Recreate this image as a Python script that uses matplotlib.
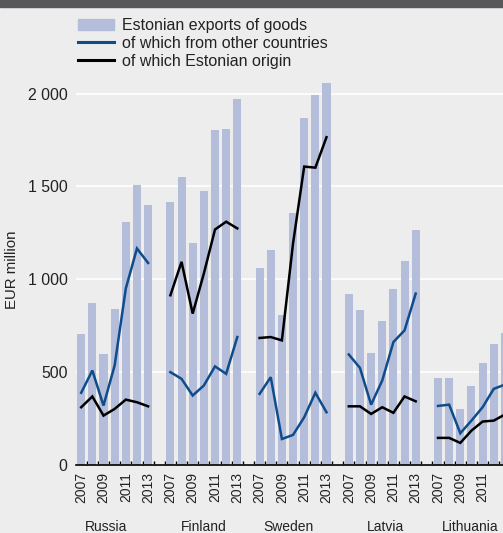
import numpy as np
import matplotlib
matplotlib.use("Agg")
import matplotlib.pyplot as plt
from matplotlib.patches import Patch
from matplotlib.lines import Line2D
from matplotlib.ticker import FixedLocator, FuncFormatter
import matplotlib.transforms as mtransforms

plt.rcParams['font.family'] = ['Liberation Sans', 'DejaVu Sans']

countries = ["Russia", "Finland", "Sweden", "Latvia", "Lithuania"]
years = [2007, 2008, 2009, 2010, 2011, 2012, 2013]

# EUR million, per country 2007..2013
exports = {
    "Russia":    [705, 875, 600, 838, 1310, 1508, 1400],
    "Finland":   [1414, 1549, 1196, 1477, 1803, 1810, 1972],
    "Sweden":    [1061, 1160, 806, 1358, 1866, 1994, 2057],
    "Latvia":    [923, 837, 605, 775, 950, 1097, 1265],
    "Lithuania": [470, 470, 302, 428, 548, 653, 710],
}
other_countries = {
    "Russia":    [389, 509, 320, 536, 950, 1166, 1088],
    "Finland":   [500, 464, 374, 428, 531, 491, 689],
    "Sweden":    [383, 473, 140, 162, 257, 389, 284],
    "Latvia":    [595, 523, 325, 455, 662, 725, 923],
    "Lithuania": [318, 325, 171, 239, 311, 410, 433],
}
estonian_origin = {
    "Russia":    [311, 369, 266, 302, 352, 338, 316],
    "Finland":   [914, 1094, 815, 1031, 1268, 1310, 1274],
    "Sweden":    [684, 689, 671, 1193, 1607, 1601, 1765],
    "Latvia":    [316, 316, 275, 311, 281, 369, 343],
    "Lithuania": [146, 146, 119, 185, 234, 239, 272],
}

bg = "#ecedec"
bar_col = "#b4bdd9"
blue = "#0f4c8c"
txt = "#222222"

W, H = 503, 533
fig = plt.figure(figsize=(W / 100, H / 100), dpi=100, facecolor=bg)
# dark band at top
fig.patches.append(plt.Rectangle((0, 1 - 7 / H), 1, 7 / H, transform=fig.transFigure,
                                 color="#58585a", zorder=0))

ax = fig.add_axes([76 / W, 68 / H, 1 - 76 / W, 390 / H], facecolor=bg)

slot = len(years) + 1
label_x = []
label_pos = []
for i, c in enumerate(countries):
    x = np.arange(len(years)) + i * slot
    ax.bar(x, exports[c], width=0.72, color=bar_col, zorder=2)
    ax.plot(x, other_countries[c], color=blue, lw=1.8, zorder=3, solid_joinstyle="miter")
    ax.plot(x, estonian_origin[c], color="black", lw=1.8, zorder=3, solid_joinstyle="miter")
    for k, y in enumerate(years):
        if y % 2 == 1:
            label_x.append(x[k])
            label_pos.append(str(y))

ax.set_xlim(-0.466, 37.83)
ax.set_ylim(0, 2100)

ax.set_yticks([0, 500, 1000, 1500, 2000])
ax.yaxis.set_major_formatter(FuncFormatter(lambda v, p: "{:,}".format(int(v)).replace(",", " ")))
ax.grid(axis="y", color="white", lw=1.2, zorder=1)
ax.set_axisbelow(True)
ax.tick_params(axis="y", length=0, pad=6, labelsize=11.4, labelcolor=txt)

ax.xaxis.set_major_locator(FixedLocator(label_x))
ax.set_xticklabels(label_pos, rotation=90, fontsize=10, color=txt)
ax.xaxis.set_minor_locator(FixedLocator(np.arange(-0.5, 39, 1.0)))
ax.tick_params(axis="x", which="major", length=0, pad=5)
ax.tick_params(axis="x", which="minor", direction="in", length=3, width=1, color="black")

for s in ["top", "right", "left"]:
    ax.spines[s].set_visible(False)
ax.spines["bottom"].set_color("black")
ax.spines["bottom"].set_linewidth(1.2)

ax.set_ylabel("EUR million", fontsize=10.8, color=txt, labelpad=6)

# country names under each group
trans = mtransforms.blended_transform_factory(ax.transData, fig.transFigure)
name_x = [2.2, 11.0, 18.6, 27.3, 34.9]
for c, nx in zip(countries, name_x):
    ax.text(nx, 1 - 527 / H, c, transform=trans, ha="center", va="center",
            fontsize=10, color=txt, clip_on=False)

handles = [Patch(color=bar_col), Line2D([], [], color=blue, lw=2.2), Line2D([], [], color="black", lw=2.2)]
labels = ["Estonian exports of goods", "of which from other countries", "of which Estonian origin"]
fig.legend(handles, labels, loc="upper left", bbox_to_anchor=(78 / W, 1 - 18 / H),
           frameon=False, fontsize=11.5, handlelength=2.25, handletextpad=0.5,
           labelspacing=0.19, borderpad=0, borderaxespad=0, labelcolor=txt)

fig.savefig("out.png", dpi=100, facecolor=bg)
